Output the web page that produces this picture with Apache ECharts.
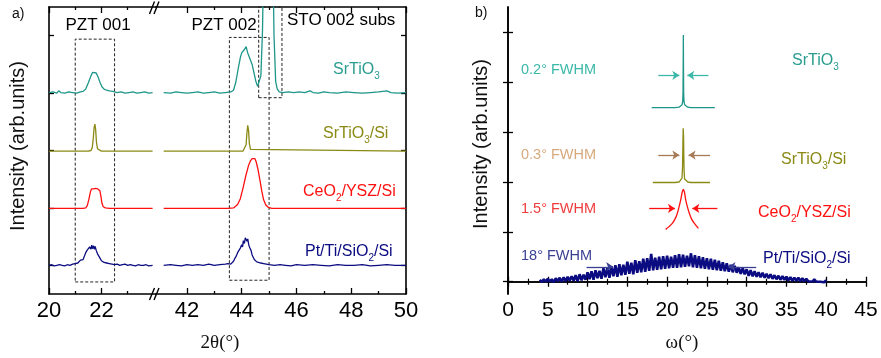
<!DOCTYPE html>
<html>
<head>
<meta charset="utf-8">
<script src="https://cdn.jsdelivr.net/npm/echarts@6/dist/echarts.min.js"></script>
<style>
html,body{margin:0;padding:0;background:#fff}
#chart{width:881px;height:358px}
</style>
</head>
<body>
<div id="chart"></div>
<script>
// ---------- panel a: 2theta scans (two segments of a broken axis) ----------
const tealLeft = [[20.0,3.51],[20.15,3.52],[20.3,3.50],[20.37,3.54],[20.45,3.51],[20.6,3.50],[20.75,3.52],[20.9,3.51],[21.05,3.50],[21.2,3.52],[21.3,3.53],[21.4,3.57],[21.5,3.68],[21.6,3.80],[21.66,3.86],[21.72,3.88],[21.8,3.85],[21.88,3.77],[21.95,3.68],[22.02,3.61],[22.1,3.57],[22.2,3.55],[22.3,3.54],[22.44,3.53],[22.6,3.51],[22.75,3.52],[22.9,3.50],[23.05,3.51],[23.2,3.52],[23.35,3.50],[23.5,3.51],[23.65,3.52],[23.8,3.50],[23.95,3.51]];
const tealRight = [[41.15,3.51],[41.4,3.50],[41.6,3.52],[41.8,3.51],[42.0,3.50],[42.2,3.51],[42.4,3.52],[42.6,3.50],[42.8,3.51],[43.0,3.52],[43.2,3.50],[43.4,3.51],[43.6,3.52],[43.7,3.55],[43.78,3.68],[43.87,3.92],[43.95,4.12],[44.0,4.20],[44.05,4.23],[44.1,4.26],[44.16,4.31],[44.22,4.20],[44.3,4.10],[44.38,4.00],[44.45,3.85],[44.52,3.70],[44.58,3.62],[44.63,3.62],[44.7,3.80],[44.76,4.60],[44.82,6.50],[44.97,8.00],[45.12,6.50],[45.18,4.50],[45.24,3.70],[45.3,3.57],[45.37,3.52],[45.5,3.51],[45.7,3.52],[45.9,3.51],[46.1,3.52],[46.3,3.51],[46.5,3.54],[46.6,3.51],[46.8,3.50],[47.0,3.52],[47.2,3.51],[47.5,3.50],[47.8,3.52],[48.1,3.51],[48.4,3.50],[48.7,3.51],[49.0,3.52],[49.3,3.54],[49.45,3.51],[49.7,3.50],[50.0,3.51]];
const oliveLeft = [[20.0,2.49],[21.5,2.49],[21.6,2.50],[21.65,2.55],[21.69,2.72],[21.72,2.90],[21.75,2.96],[21.78,2.86],[21.81,2.64],[21.85,2.53],[21.9,2.50],[22.0,2.49],[23.95,2.49]];
const oliveRight = [[41.15,2.49],[44.05,2.49],[44.12,2.51],[44.16,2.60],[44.19,2.80],[44.22,2.94],[44.25,2.85],[44.28,2.62],[44.32,2.52],[44.38,2.49],[50.0,2.49]];
const redLeft = [[20.0,1.49],[21.3,1.49],[21.4,1.50],[21.46,1.54],[21.52,1.65],[21.58,1.78],[21.62,1.83],[21.66,1.85],[21.7,1.83],[21.74,1.86],[21.78,1.84],[21.82,1.86],[21.86,1.83],[21.9,1.84],[21.94,1.80],[21.98,1.70],[22.02,1.58],[22.07,1.52],[22.15,1.50],[22.3,1.49],[23.95,1.49]];
const redRight = [[41.15,1.49],[43.5,1.49],[43.7,1.50],[43.85,1.56],[43.95,1.66],[44.05,1.85],[44.15,2.06],[44.25,2.24],[44.32,2.32],[44.38,2.36],[44.43,2.35],[44.48,2.36],[44.53,2.30],[44.6,2.16],[44.67,1.97],[44.73,1.80],[44.8,1.64],[44.88,1.55],[44.97,1.51],[45.1,1.49],[50.0,1.49]];
const navyLeft = [[20.0,0.50],[20.1,0.51],[20.2,0.49],[20.3,0.50],[20.4,0.51],[20.5,0.50],[20.6,0.49],[20.7,0.51],[20.8,0.50],[20.9,0.52],[21.0,0.53],[21.05,0.55],[21.1,0.54],[21.15,0.57],[21.2,0.59],[21.25,0.62],[21.3,0.60],[21.35,0.66],[21.4,0.72],[21.45,0.76],[21.5,0.74],[21.55,0.82],[21.6,0.78],[21.63,0.85],[21.66,0.79],[21.7,0.84],[21.73,0.78],[21.76,0.83],[21.8,0.76],[21.85,0.70],[21.9,0.66],[21.95,0.62],[22.0,0.58],[22.05,0.56],[22.1,0.55],[22.2,0.54],[22.3,0.53],[22.4,0.52],[22.5,0.51],[22.6,0.52],[22.7,0.50],[22.8,0.51],[22.9,0.52],[23.0,0.50],[23.1,0.51],[23.2,0.50],[23.3,0.49],[23.4,0.51],[23.5,0.50],[23.6,0.50],[23.7,0.51],[23.8,0.49],[23.95,0.50]];
const navyRight = [[41.15,0.50],[41.4,0.51],[41.6,0.50],[41.8,0.49],[42.0,0.51],[42.2,0.50],[42.4,0.51],[42.6,0.50],[42.8,0.52],[43.0,0.50],[43.2,0.51],[43.4,0.52],[43.5,0.53],[43.6,0.52],[43.65,0.55],[43.7,0.57],[43.75,0.62],[43.8,0.66],[43.85,0.72],[43.9,0.70],[43.95,0.80],[44.0,0.86],[44.03,0.82],[44.06,0.93],[44.1,0.88],[44.13,0.98],[44.16,1.00],[44.19,0.92],[44.22,0.96],[44.26,0.85],[44.3,0.80],[44.34,0.76],[44.38,0.68],[44.42,0.64],[44.46,0.60],[44.5,0.58],[44.55,0.56],[44.6,0.57],[44.7,0.54],[44.8,0.53],[44.9,0.52],[45.0,0.51],[45.2,0.50],[45.4,0.51],[45.6,0.50],[45.8,0.49],[46.0,0.51],[46.3,0.50],[46.6,0.51],[46.9,0.50],[47.2,0.49],[47.5,0.51],[47.8,0.50],[48.1,0.50],[48.4,0.51],[48.7,0.49],[49.0,0.50],[49.3,0.51],[49.6,0.50],[50.0,0.50]];

// dashed boxes: [x0, y0, x1, y1]
const boxPZT001 = [21.0, 0.21, 22.5, 4.44];
const boxPZT002 = [43.55, 0.24, 45.0, 4.47];
const boxSTO = [44.62, 3.42, 45.47, 5.0];

// ---------- panel b: omega rocking curves ----------
const tealOmega = [[18.06,3.49],[21.0,3.49],[21.5,3.50],[21.75,3.52],[21.88,3.55],[21.96,3.62],[22.0,3.80],[22.02,4.30],[22.04,4.95],[22.06,4.30],[22.08,3.80],[22.12,3.62],[22.2,3.55],[22.33,3.52],[22.6,3.50],[23.0,3.49],[26.0,3.49]];
const oliveOmega = [[18.2,1.99],[21.0,1.99],[21.5,2.00],[21.75,2.03],[21.87,2.08],[21.94,2.30],[21.98,2.70],[22.02,3.08],[22.04,3.10],[22.07,2.90],[22.1,2.50],[22.14,2.20],[22.2,2.06],[22.33,2.02],[22.6,2.00],[23.0,1.99],[25.4,1.99]];
const redOmega = [[19.82,1.05],[20.2,1.10],[20.65,1.17],[21.0,1.26],[21.28,1.37],[21.5,1.50],[21.71,1.64],[21.9,1.80],[22.04,1.85],[22.2,1.78],[22.34,1.64],[22.55,1.50],[22.8,1.37],[23.1,1.25],[23.43,1.17],[23.93,1.07]];
// Pt/Ti/SiO2/Si scan, sampled every 0.25 deg from 4 deg
const navyOmegaStart = 4, navyOmegaStep = 0.25;
const navyOmega = [
 .04,-.01,.05,.00, .06,.00,.05,-.01, .07,.01,.08,.00, .09,.01,.10,.02,
 .11,.02,.13,.01, .15,.03,.14,.04, .19,.05,.21,.04, .23,.07,.22,.06,
 .27,.09,.29,.08, .31,.11,.33,.10, .35,.13,.34,.14, .40,.16,.38,.15,
 .43,.18,.41,.19, .46,.20,.47,.22, .56,.23,.48,.24, .50,.25,.51,.26,
 .52,.27,.50,.28, .53,.28,.55,.29, .54,.30,.52,.31, .57,.29,.53,.28,
 .51,.27,.49,.26, .47,.25,.46,.24, .44,.23,.42,.22, .39,.21,.37,.20,
 .34,.19,.32,.18, .29,.16,.27,.15, .25,.12,.23,.11, .21,.10,.19,.09,
 .18,.08,.16,.07, .15,.06,.13,.05, .12,.04,.11,.04, .10,.03,.09,.02,
 .08,.02,.08,.01, .07,.01,.06,.01, .05,.00,.05,.00, .04,.00,.04,-.01,
 .03];

// FWHM arrows: [fromX, toX, y]
const arrowsTeal = [[18.89,21.54,4.14],[25.19,22.54,4.14]];
const arrowsOlive = [[18.89,21.54,2.54],[25.4,22.7,2.54]];
const arrowsRed = [[17.75,20.99,1.47],[26.32,23.17,1.47]];
const arrowsNavy = [[9.87,13.22,0.30],[31.2,27.71,0.30]];

// tick values
const aLeftMajor = [20,22], aLeftMinor = [21,23];
const aRightMajor = [42,44,46,48,50], aRightMinor = [43,45,47,49];
const aYTicks = [0.5,1.5,2.5,3.5,4.5];
const bYTicks = [0,1,2,3,4,5];

const C = {
  teal:'#1e968a', olive:'#8a8a14', red:'#ff1010', navy:'#0c0c82',
  tealTxt:'#2a9d90', tealLt:'#3cb8a8', tan:'#d6aa7e', brown:'#a57a55',
  redLt:'#f03c3c', navyLt:'#3a3f92'
};
const FONT = 'Liberation Sans, Arial, Helvetica, sans-serif';
const SERIF = 'Liberation Serif, Times New Roman, serif';
const AX = {color:'#000', width:1.6};

const navyOmegaData = navyOmega.map((v,i)=>[navyOmegaStart + i*navyOmegaStep, v]);

function xAxisA(grid, pos, min, max, ticks, len, labels) {
  const major = len > 4;
  return {
    type:'value', gridIndex:grid, position:pos, min:min, max:max,
    axisLine:{show:major, lineStyle:AX},
    axisTick:{show:true, inside:true, length:len, customValues:ticks, lineStyle:{color:'#000', width:1.3}},
    axisLabel:labels ? {show:true, customValues:ticks, fontSize:22, margin:6, color:'#000', fontFamily:FONT} : {show:false},
    splitLine:{show:false}
  };
}
function yAxis(grid, pos, min, max, ticks) {
  return {
    type:'value', gridIndex:grid, position:pos, min:min, max:max,
    axisLine:{show:true, lineStyle:AX},
    axisTick:{show:true, inside:true, length:5, customValues:ticks, lineStyle:{color:'#000', width:1.3}},
    axisLabel:{show:false}, splitLine:{show:false}
  };
}
function xAxisB(pos, labels) {
  return {
    type:'value', gridIndex:2, position:pos, min:0, max:45, interval:5,
    axisLine:{show:true, lineStyle:AX},
    axisTick:{show:true, inside:true, length:5, lineStyle:{color:'#000', width:1.3}},
    minorTick:{show:true, splitNumber:2, length:3, lineStyle:{color:'#000', width:1.2}},
    axisLabel:labels ? {show:true, fontSize:21, margin:6, color:'#000', fontFamily:FONT} : {show:false},
    splitLine:{show:false}
  };
}
function line(data, color, xi, yi, extra) {
  return Object.assign({
    type:'line', data:data, xAxisIndex:xi, yAxisIndex:yi,
    showSymbol:false, symbol:'none', clip:true, z:3,
    lineStyle:{color:color, width:1.3}
  }, extra || {});
}
function dashedBoxes(list) {
  return {
    silent:true,
    itemStyle:{color:'rgba(0,0,0,0)', borderColor:'#222', borderWidth:1, borderType:[3,2]},
    label:{show:false},
    data:list.map(b => [{coord:[b[0], b[1]]}, {coord:[b[2], b[3]]}])
  };
}
function arrows(list, color) {
  return {
    silent:true, symbol:['none','arrow'], symbolSize:7,
    lineStyle:{color:color, width:1.3, type:'solid'},
    label:{show:false},
    data:list.map(a => [{coord:[a[0], a[2]]}, {coord:[a[1], a[2]]}])
  };
}
function txt(x, y, text, color, size, opts) {
  const o = opts || {};
  return {
    type:'text', x:x, y:y, rotation:o.rotation || 0, z:10,
    style:{
      text:text, x:0, y:0, fill:color,
      font:(size)+'px '+(o.family || FONT),
      align:o.align || 'left', verticalAlign:'middle',
      textAlign:o.align || 'left', textVerticalAlign:'middle',
      lineHeight:22,
      rich:{
        s:{fontSize:10, lineHeight:6, verticalAlign:'bottom', fill:color, fontFamily:FONT}
      }
    }
  };
}
function slash(x1, y1, x2, y2) {
  return {type:'line', z:10, shape:{x1:x1, y1:y1, x2:x2, y2:y2}, style:{stroke:'#000', lineWidth:1.4}};
}

const chart = echarts.init(document.getElementById('chart'), null, {renderer:'canvas'});
chart.setOption({
  animation:false,
  backgroundColor:'#fff',
  textStyle:{fontFamily:FONT},
  grid:[
    {left:49, top:7, width:107, height:287},
    {left:156, top:7, width:250, height:287},
    {left:508, top:7, width:358, height:287}
  ],
  xAxis:[
    xAxisA(0,'bottom',20,24.08,aLeftMajor,6,true),
    xAxisA(0,'bottom',20,24.08,aLeftMinor,3,false),
    xAxisA(0,'top',20,24.08,aLeftMajor,6,false),
    xAxisA(0,'top',20,24.08,aLeftMinor,3,false),
    xAxisA(1,'bottom',40.87,50,aRightMajor,6,true),
    xAxisA(1,'bottom',40.87,50,aRightMinor,3,false),
    xAxisA(1,'top',40.87,50,aRightMajor,6,false),
    xAxisA(1,'top',40.87,50,aRightMinor,3,false),
    xAxisB('bottom',true),
    xAxisB('top',false)
  ],
  yAxis:[
    yAxis(0,'left',0,5,aYTicks),
    yAxis(1,'right',0,5,aYTicks),
    yAxis(2,'left',-0.246,5.51,bYTicks),
    yAxis(2,'right',-0.246,5.51,bYTicks)
  ],
  series:[
    line(navyLeft, C.navy, 0, 0),
    line(redLeft, C.red, 0, 0),
    line(oliveLeft, C.olive, 0, 0),
    line(tealLeft, C.teal, 0, 0, {markArea:dashedBoxes([boxPZT001])}),
    line(navyRight, C.navy, 4, 1),
    line(redRight, C.red, 4, 1),
    line(oliveRight, C.olive, 4, 1),
    line(tealRight, C.teal, 4, 1, {markArea:dashedBoxes([boxPZT002, boxSTO])}),
    line(navyOmegaData, C.navy, 8, 2, {lineStyle:{color:C.navy, width:2.6}, markLine:arrows(arrowsNavy, C.navyLt)}),
    line(redOmega, C.red, 8, 2, {markLine:arrows(arrowsRed, C.red), smooth:0.3}),
    line(oliveOmega, C.olive, 8, 2, {markLine:arrows(arrowsOlive, C.brown)}),
    line(tealOmega, C.teal, 8, 2, {markLine:arrows(arrowsTeal, C.tealLt)})
  ],
  graphic:[
    txt(12, 14, 'a)', '#111', 14),
    txt(475, 13, 'b)', '#111', 14),
    txt(18, 146, 'Intensity (arb.units)', '#111', 20, {rotation:Math.PI/2, align:'center'}),
    txt(481, 144, 'Intensity (arb.units)', '#111', 20, {rotation:Math.PI/2, align:'center'}),
    txt(220, 343, '2θ(°)', '#111', 19, {align:'center', family:SERIF}),
    txt(682, 343, 'ω(°)', '#111', 19, {align:'center', family:SERIF}),
    txt(98, 25, 'PZT 001', '#000', 17, {align:'center'}),
    txt(224, 25, 'PZT 002', '#000', 17, {align:'center'}),
    txt(287, 20.5, 'STO 002 subs', '#000', 17),
    txt(333, 70, 'SrTiO{s|3}', C.tealTxt, 16),
    txt(323, 134, 'SrTiO{s|3}/Si', C.olive, 16),
    txt(303, 192, 'CeO{s|2}/YSZ/Si', C.red, 16),
    txt(305, 252, 'Pt/Ti/SiO{s|2}/Si', C.navy, 16),
    txt(792, 61, 'SrTiO{s|3}', C.tealTxt, 16),
    txt(781, 160, 'SrTiO{s|3}/Si', C.olive, 16),
    txt(758, 213, 'CeO{s|2}/YSZ/Si', C.red, 16),
    txt(763, 259, 'Pt/Ti/SiO{s|2}/Si', C.navy, 16),
    txt(521, 70, '0.2° FWHM', C.tealLt, 14.5),
    txt(521, 155, '0.3° FWHM', C.tan, 14.5),
    txt(521, 209, '1.5° FWHM', C.redLt, 14.5),
    txt(521, 256, '18° FWHM', C.navyLt, 14.5),
    slash(149.5, 14, 154.5, 1.5),
    slash(154, 14, 159, 1.5),
    slash(149.5, 300, 154.5, 288),
    slash(154, 300, 159, 288)
  ]
});
</script>
</body>
</html>
